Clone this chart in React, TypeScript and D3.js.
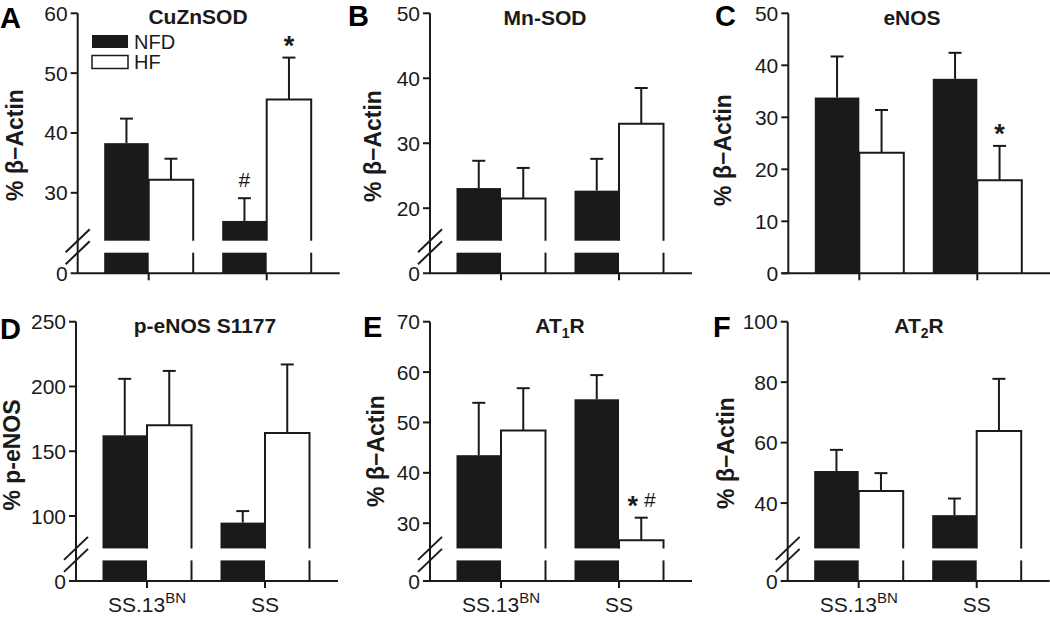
import React from "react";
import * as d3 from "d3";

// ---------- data ----------
const categories = ["SS.13", "SS"];
const categorySup = ["BN", ""];
const seriesNames = ["NFD", "HF"];

const panelLetters = ["A", "B", "C", "D", "E", "F"];
const panelTitles = ["CuZnSOD", "Mn-SOD", "eNOS", "p-eNOS S1177", "AT|1|R", "AT|2|R"];
const yLabels = ["% β−Actin", "% β−Actin", "% β−Actin", "% p-eNOS", "% β−Actin", "% β−Actin"];

// means [SS.13BN, SS]
const nfdMean = [
  [38.3, 25.3],
  [23.1, 22.7],
  [33.8, 37.4],
  [162.3, 94.9],
  [43.5, 54.6],
  [50.6, 36.0],
];
const hfMean = [
  [32.2, 45.6],
  [21.5, 33.0],
  [23.2, 17.9],
  [170.0, 164.0],
  [48.4, 26.6],
  [44.0, 63.8],
];
const nfdSem = [
  [4.1, 3.8],
  [4.2, 4.9],
  [7.9, 5.0],
  [43.6, 8.9],
  [10.4, 4.8],
  [7.0, 5.5],
];
const hfSem = [
  [3.5, 7.0],
  [4.7, 5.5],
  [8.2, 6.6],
  [42.0, 53.0],
  [8.4, 4.5],
  [5.9, 17.3],
];

// y axes
const yMax = [60, 50, 50, 250, 70, 100];
const yBreak = [22, 15, null, 75, 25, 25]; // lowest value of the upper segment (null = no break)
const yTicks = [
  [30, 40, 50, 60],
  [20, 30, 40, 50],
  [0, 10, 20, 30, 40, 50],
  [100, 150, 200, 250],
  [30, 40, 50, 60, 70],
  [40, 60, 80, 100],
];

// significance marks: panel, group, series, marks
const marks = [
  { panel: 0, group: 1, series: 0, text: ["#"] },
  { panel: 0, group: 1, series: 1, text: ["*"] },
  { panel: 2, group: 1, series: 1, text: ["*"] },
  { panel: 4, group: 1, series: 1, text: ["*", "#"] },
];

// ---------- layout ----------
const layout = [
  { axisX: 77.7, top: 13.3, zero: 273.3, letterX: 0, letterY: 27.5, titleX: 198, titleY: 24, ylabX: 23, ylabY: 145 },
  { axisX: 430, top: 13.3, zero: 273.3, letterX: 348, letterY: 26, titleX: 545, titleY: 25, ylabX: 381, ylabY: 146 },
  { axisX: 788.3, top: 13.3, zero: 273.3, letterX: 715, letterY: 26, titleX: 912, titleY: 25, ylabX: 731, ylabY: 150 },
  { axisX: 76, top: 321.7, zero: 581, letterX: 0, letterY: 338.5, titleX: 205, titleY: 333, ylabX: 19.5, ylabY: 455 },
  { axisX: 430, top: 321.7, zero: 581, letterX: 363, letterY: 337, titleX: 560, titleY: 333, ylabX: 384, ylabY: 451 },
  { axisX: 787.7, top: 321.7, zero: 581, letterX: 713, letterY: 337, titleX: 919, titleY: 333, ylabX: 734, ylabY: 453 },
];

const INK = "#1a1a1a";
const FONT = "'Liberation Sans', Arial, Helvetica, sans-serif";
const SW = 2;
const BAR_W = 44.5;
const CAP = 6.5;
const UPPER_GAP = 32.6; // distance from zero to bottom of upper segment
const LOWER_TOP = 20.6; // height of lower stub

function Title({ text, x, y }: { text: string; x: number; y: number }) {
  const parts = text.split("|");
  if (parts.length === 3) {
    return (
      <text x={x} y={y} textAnchor="middle" fontFamily={FONT} fontWeight="bold" fontSize={21} fill={INK}>
        {parts[0]}
        <tspan fontSize={14} dy={5}>{parts[1]}</tspan>
        <tspan dy={-5}>{parts[2]}</tspan>
      </text>
    );
  }
  return (
    <text x={x} y={y} textAnchor="middle" fontFamily={FONT} fontWeight="bold" fontSize={21} fill={INK}>
      {text}
    </text>
  );
}

function Panel({ i }: { i: number }) {
  const L = layout[i];
  const brk = yBreak[i];
  const upperBottom = brk === null ? L.zero : L.zero - UPPER_GAP;
  const y = d3
    .scaleLinear()
    .domain([brk === null ? 0 : brk, yMax[i]])
    .range([upperBottom, L.top]);
  const x = d3
    .scalePoint<string>()
    .domain(categories)
    .range([L.axisX + 71, L.axisX + 189]);
  const xEnd = L.axisX + 262;

  const bars: React.ReactNode[] = [];
  categories.forEach((c, g) => {
    const cx = x(c) as number;
    [0, 1].forEach((s) => {
      const mean = s === 0 ? nfdMean[i][g] : hfMean[i][g];
      const sem = s === 0 ? nfdSem[i][g] : hfSem[i][g];
      const x0 = s === 0 ? cx - BAR_W : cx;
      const x1 = s === 0 ? cx : cx + BAR_W;
      const yt = y(mean);
      const ye = y(mean + sem);
      const mid = (x0 + x1) / 2;
      const key = `${g}-${s}`;
      bars.push(
        <g key={"e" + key} stroke={INK} strokeWidth={SW}>
          <line x1={mid} x2={mid} y1={yt} y2={ye} />
          <line x1={mid - CAP} x2={mid + CAP} y1={ye} y2={ye} />
        </g>
      );
      if (s === 0) {
        bars.push(<rect key={"u" + key} x={x0} y={yt} width={x1 - x0} height={upperBottom - yt} fill={INK} />);
        if (brk !== null)
          bars.push(<rect key={"l" + key} x={x0} y={L.zero - LOWER_TOP} width={x1 - x0} height={LOWER_TOP} fill={INK} />);
      } else {
        bars.push(
          <path
            key={"u" + key}
            d={`M${x0},${upperBottom}V${yt}H${x1}V${upperBottom}`}
            fill="white"
            stroke={INK}
            strokeWidth={SW}
          />
        );
        if (brk !== null)
          bars.push(
            <line key={"l" + key} x1={x1} x2={x1} y1={L.zero - LOWER_TOP} y2={L.zero} stroke={INK} strokeWidth={SW} />
          );
      }
    });
  });

  const markEls: React.ReactNode[] = [];
  marks
    .filter((m) => m.panel === i)
    .forEach((m, k) => {
      const cx = x(categories[m.group]) as number;
      const mid = m.series === 0 ? cx - BAR_W / 2 : cx + BAR_W / 2;
      const mean = m.series === 0 ? nfdMean[i][m.group] : hfMean[i][m.group];
      const sem = m.series === 0 ? nfdSem[i][m.group] : hfSem[i][m.group];
      const centerY = y(mean + sem) - 18;
      const n = m.text.length;
      m.text.forEach((t, j) => {
        const mx = mid + (j - (n - 1) / 2) * 17;
        if (t === "*")
          markEls.push(
            <text key={`m${k}${j}`} x={mx} y={centerY + 15} textAnchor="middle" fontFamily={FONT} fontWeight="bold" fontSize={27} fill={INK}>
              *
            </text>
          );
        else
          markEls.push(
            <text key={`m${k}${j}`} x={mx} y={centerY + 7} textAnchor="middle" fontFamily={FONT} fontSize={21} fill={INK}>
              {t}
            </text>
          );
      });
    });

  const ticks = yTicks[i].map((t) => (
    <g key={"t" + t}>
      <line x1={L.axisX - 7} x2={L.axisX} y1={y(t)} y2={y(t)} stroke={INK} strokeWidth={SW} />
      <text x={L.axisX - 10} y={y(t) + 7.5} textAnchor="end" fontFamily={FONT} fontSize={21} fill={INK}>
        {t}
      </text>
    </g>
  ));

  const isBottom = i >= 3;

  return (
    <g>
      <text x={L.letterX} y={L.letterY} fontFamily={FONT} fontWeight="bold" fontSize={29} fill="#000">
        {panelLetters[i]}
      </text>
      <Title text={panelTitles[i]} x={L.titleX} y={L.titleY} />
      <text
        transform={`translate(${L.ylabX},${L.ylabY}) rotate(-90)`}
        textAnchor="middle"
        fontFamily={FONT}
        fontWeight="bold"
        fontSize={23}
        fill={INK}
      >
        {yLabels[i]}
      </text>
      {bars}
      {markEls}
      <line x1={L.axisX} x2={L.axisX} y1={L.top} y2={L.zero} stroke={INK} strokeWidth={SW} />
      <line x1={L.axisX - 7} x2={xEnd} y1={L.zero} y2={L.zero} stroke={INK} strokeWidth={SW} />
      {ticks}
      {brk !== null && (
        <g>
          <text x={L.axisX - 10} y={L.zero + 7.5} textAnchor="end" fontFamily={FONT} fontSize={21} fill={INK}>
            0
          </text>
          {[upperBottom, L.zero - LOWER_TOP].map((yb, k) => (
            <line key={"b" + k} x1={L.axisX - 12} x2={L.axisX + 12} y1={yb + 11.5} y2={yb - 11.5} stroke={INK} strokeWidth={SW} />
          ))}
        </g>
      )}
      {categories.map((c, g) => (
        <line key={"xt" + g} x1={x(c) as number} x2={x(c) as number} y1={L.zero} y2={L.zero + 7} stroke={INK} strokeWidth={SW} />
      ))}
      {isBottom &&
        categories.map((c, g) => (
          <text key={"xl" + g} x={x(c) as number} y={612} textAnchor="middle" fontFamily={FONT} fontSize={21} fill={INK}>
            {c}
            {categorySup[g] && (
              <tspan fontSize={15} dy={-9}>
                {categorySup[g]}
              </tspan>
            )}
          </text>
        ))}
      {i === 0 && (
        <g>
          {seriesNames.map((s, k) => (
            <g key={"lg" + s}>
              <rect
                x={92}
                y={35 + k * 20.5}
                width={36}
                height={13}
                fill={k === 0 ? INK : "white"}
                stroke={INK}
                strokeWidth={k === 0 ? 0 : 1.5}
              />
              <text x={134} y={48.5 + k * 20.5} fontFamily={FONT} fontSize={20} fill={INK}>
                {s}
              </text>
            </g>
          ))}
        </g>
      )}
    </g>
  );
}

export default function App() {
  return (
    <svg width={1050} height={617} style={{ position: "absolute", left: 0, top: 0, background: "white" }}>
      <rect width={1050} height={617} fill="white" />
      {panelLetters.map((_, i) => (
        <Panel key={i} i={i} />
      ))}
    </svg>
  );
}
